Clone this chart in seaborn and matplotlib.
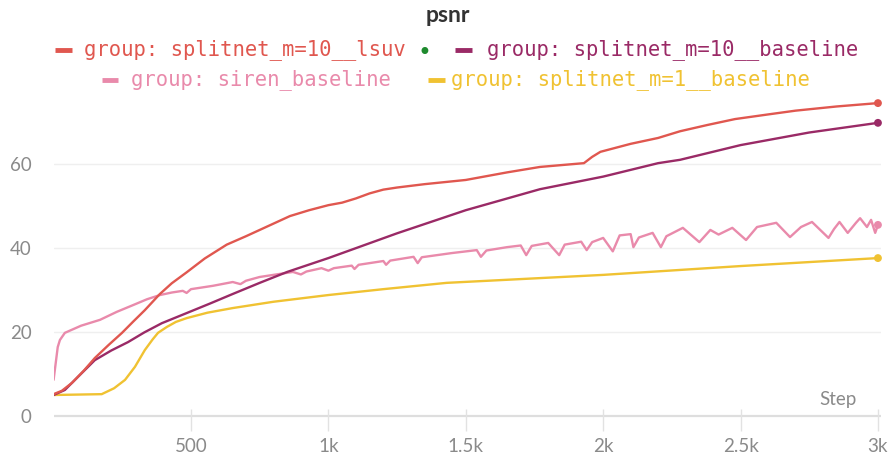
import matplotlib
matplotlib.use("Agg")
import matplotlib.pyplot as plt
import seaborn as sns
import pandas as pd
from matplotlib.lines import Line2D

# ---------------- data ----------------
lsuv_steps = [0, 30, 67, 110, 150, 200, 249, 290, 332, 386, 430, 484, 550, 630, 700, 780, 860,
              930, 1000, 1050, 1100, 1150, 1200, 1250, 1350, 1500, 1650, 1770, 1930, 1960, 1990,
              2100, 2200, 2280, 2380, 2480, 2600, 2700, 2850, 3000]
lsuv_vals = [5.2, 6.0, 7.9, 10.8, 13.8, 16.9, 19.8, 22.5, 25.2, 29.0, 31.6, 34.2, 37.5, 40.8,
             42.8, 45.2, 47.6, 49.0, 50.2, 50.8, 51.8, 53.0, 53.9, 54.4, 55.2, 56.2, 58.0, 59.3,
             60.2, 61.7, 62.9, 64.8, 66.2, 67.8, 69.3, 70.7, 71.8, 72.7, 73.7, 74.5]

base10_steps = [0, 41, 90, 150, 210, 271, 330, 394, 484, 570, 650, 750, 850, 1000, 1250, 1500,
                1770, 2000, 2200, 2280, 2500, 2750, 3000]
base10_vals = [5.0, 6.2, 9.4, 13.3, 15.6, 17.6, 19.9, 22.1, 24.5, 26.8, 29.0, 31.7, 34.3, 37.6,
               43.5, 49.0, 54.0, 57.0, 60.2, 61.0, 64.5, 67.5, 69.8]

siren_steps = [0, 15, 23, 41, 100, 169, 230, 289, 340, 387, 430, 470, 484, 500, 580, 652, 680,
               700, 750, 810, 871, 900, 920, 975, 1000, 1020, 1085, 1095, 1110, 1200, 1210, 1225,
               1310, 1325, 1340, 1450, 1540, 1555, 1575, 1650, 1700, 1720, 1740, 1800, 1840, 1860,
               1920, 1940, 1960, 2000, 2035, 2060, 2100, 2110, 2130, 2180, 2210, 2230, 2290, 2350,
               2390, 2420, 2470, 2520, 2560, 2630, 2680, 2720, 2760, 2820, 2840, 2860, 2890, 2920,
               2935, 2960, 2975, 2990, 3000]
siren_vals = [8.6, 16.4, 18.1, 19.8, 21.5, 22.9, 24.8, 26.4, 27.8, 28.8, 29.4, 29.8, 29.3, 30.2,
              31.0, 31.9, 31.4, 32.2, 33.1, 33.7, 34.3, 33.7, 34.4, 35.2, 34.6, 35.2, 35.8, 35.0,
              36.0, 36.9, 36.0, 37.0, 37.9, 36.4, 37.8, 38.8, 39.5, 37.9, 39.4, 40.2, 40.6, 38.3,
              40.5, 41.2, 38.3, 40.8, 41.5, 39.5, 41.4, 42.4, 39.2, 43.0, 43.3, 40.2, 42.5, 43.6,
              40.2, 42.8, 44.8, 41.4, 44.3, 43.2, 44.8, 41.9, 45.0, 46.0, 42.6, 45.0, 46.2, 42.4,
              44.5, 46.2, 43.6, 46.0, 47.1, 45.0, 46.7, 43.6, 45.5]

base1_steps = [0, 175, 220, 260, 296, 332, 360, 380, 412, 445, 484, 560, 652, 800, 1000, 1200,
               1430, 2000, 2500, 3000]
base1_vals = [5.0, 5.2, 6.6, 8.6, 11.7, 15.7, 18.2, 19.8, 21.2, 22.4, 23.3, 24.6, 25.7, 27.2,
              28.8, 30.2, 31.7, 33.6, 35.7, 37.6]

groups = ["group: splitnet_m=10__lsuv", "group: splitnet_m=10__baseline",
          "group: siren_baseline", "group: splitnet_m=1__baseline"]
colors = ["#e0574f", "#9a2a66", "#e98aab", "#f0c232"]

x_ticks = [500, 1000, 1500, 2000, 2500, 3000]
x_tick_labels = ["500", "1k", "1.5k", "2k", "2.5k", "3k"]
y_ticks = [0, 20, 40, 60]

# ---------------- build frame ----------------
series = [(lsuv_steps, lsuv_vals), (base10_steps, base10_vals),
          (siren_steps, siren_vals), (base1_steps, base1_vals)]
frames = []
for g, (s, v) in zip(groups, series):
    frames.append(pd.DataFrame({"step": s, "value": v, "group": g}))
df = pd.concat(frames, ignore_index=True)
last = df.groupby("group", sort=False).tail(1)

# ---------------- plot ----------------
sns.set_theme(style="white")
plt.rcParams["font.family"] = ["Lato", "DejaVu Sans"]

fig = plt.figure(figsize=(8.93, 4.57), dpi=100)
W, H = 893.0, 457.0
ax_left, ax_right = 53.6, 880.7
ax_top, ax_bot = 96.8, 420.2
ax = fig.add_axes([ax_left / W, 1 - ax_bot / H, (ax_right - ax_left) / W, (ax_bot - ax_top) / H])

palette = dict(zip(groups, colors))
for g in [groups[3], groups[2], groups[1], groups[0]]:
    sub = df[df["group"] == g]
    sns.lineplot(data=sub, x="step", y="value", color=palette[g], lw=1.7, ax=ax,
                 legend=False, sort=False, estimator=None)
sns.scatterplot(data=last, x="step", y="value", hue="group", palette=palette, s=32,
                edgecolor="none", legend=False, ax=ax, zorder=5, clip_on=False)

ax.set_xlim(0, 3010)
ax.set_ylim(-1, 76)
for sp in ax.spines.values():
    sp.set_visible(False)

for yv in y_ticks:
    if yv == 0:
        ax.axhline(yv, color="#dedede", lw=1.6, zorder=0)
    else:
        ax.axhline(yv, color="#efefef", lw=1.0, zorder=0)

ax.set_xticks(x_ticks)
ax.set_xticklabels(x_tick_labels)
ax.set_yticks(y_ticks)
ax.set_yticklabels([str(t) for t in y_ticks])
ax.tick_params(axis="x", direction="inout", length=16, width=1, color="#e2e2e2",
               labelsize=13.5, labelcolor="#8a8a8a", pad=5, bottom=True)
ax.tick_params(axis="y", length=0, labelsize=13.5, labelcolor="#8a8a8a", pad=16)
ax.set_xlabel("")
ax.set_ylabel("")

fig.text(857 / W, 1 - 400 / H, "Step", ha="right", va="center", fontsize=13.5, color="#8a8a8a")

# title
fig.text(448 / W, 1 - 16 / H, "psnr", ha="center", va="center", fontsize=16.5,
         fontweight="bold", color="#333333")

# legend (manual layout)
legend_items = [
    (55, 72, 84, 50, 0),
    (455, 472, 487, 50, 1),
    (102, 118, 131, 80, 2),
    (428, 445, 451, 80, 3),
]
for x0, x1, xt, yc, i in legend_items:
    fig.add_artist(Line2D([x0 / W, x1 / W], [1 - yc / H, 1 - yc / H], color=colors[i],
                          lw=3.5, transform=fig.transFigure, solid_capstyle="butt"))
    fig.text(xt / W, 1 - yc / H, groups[i], ha="left", va="center",
             fontsize=14.8, family="DejaVu Sans Mono", color=colors[i])
fig.text(424 / W, 1 - 53 / H, "\u2022", ha="center", va="center", fontsize=17,
         color="#1e8a2e", family="DejaVu Sans")

fig.savefig("out.png", dpi=100)
